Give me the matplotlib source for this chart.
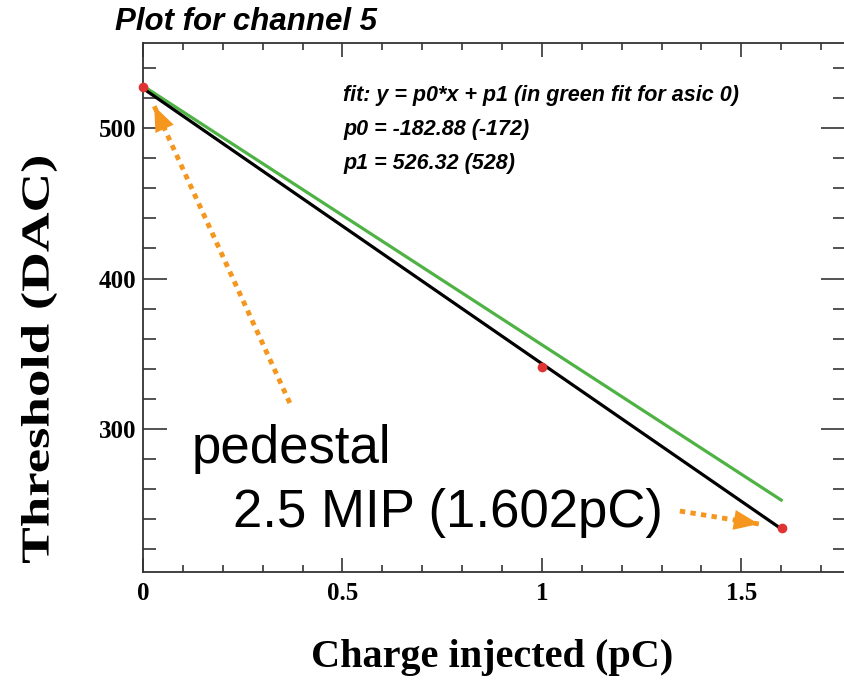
import matplotlib
matplotlib.use("Agg")
import matplotlib.pyplot as plt
from matplotlib.ticker import MultipleLocator
from matplotlib.textpath import TextPath
from matplotlib.patches import PathPatch
from matplotlib.font_manager import FontProperties
from matplotlib.transforms import Affine2D

# measured points: pedestal, 1 pC and 2.5 MIP injections
charge = [0.0, 1.0, 1.602]
threshold = [527.0, 341.5, 234.5]

# linear fit results (this channel / asic 0 reference)
p0, p1 = -182.88, 526.32
p0_ref, p1_ref = -172.0, 528.0
fit_x = [0.0, 1.602]
ref_x = [0.0, 1.6]

# annotation arrows (tail, tip) in data units
ped_arrow = [(0.368, 317.3), (0.028, 514.6)]
mip_arrow = [(1.346, 245.5), (1.544, 236.9)]

orange = '#f5961e'
serif = 'Liberation Serif'
sans = 'Liberation Sans'

fig = plt.figure(figsize=(8.44, 6.81), dpi=100)
W, H = 844, 681
ax = fig.add_axes([143 / W, 1 - 572 / H, (845 - 143) / W, (572 - 43) / H])
ax.set_xlim(0, 1.76)
ax.set_ylim(205, 556.5)

ax.plot(ref_x, [p0_ref * x + p1_ref for x in ref_x], color='#4fb244', lw=2.3, zorder=2)
ax.plot(fit_x, [p0 * x + p1 for x in fit_x], color='black', lw=2.3, zorder=3)
ax.plot(charge, threshold, 'o', color='#e03434', ms=7, mec='none', zorder=4, clip_on=False)

# ROOT-style frame: ticks on every side, pointing in
for sp in ax.spines.values():
    sp.set_linewidth(1.3)
    sp.set_color('#333333')
ax.xaxis.set_major_locator(MultipleLocator(0.5))
ax.xaxis.set_minor_locator(MultipleLocator(0.1))
ax.yaxis.set_major_locator(MultipleLocator(100))
ax.yaxis.set_minor_locator(MultipleLocator(20))
ax.tick_params(which='both', direction='in', top=True, right=True, color='#444444', width=1.3)
ax.tick_params(axis='x', which='major', length=10, pad=7)
ax.tick_params(axis='x', which='minor', length=5)
ax.tick_params(axis='y', which='major', length=17, pad=5)
ax.tick_params(axis='y', which='minor', length=9)
ax.set_xticks([0, 0.5, 1, 1.5])
ax.set_xticklabels(['0', '0.5', '1', '1.5'])
for lab in ax.get_xticklabels() + ax.get_yticklabels():
    lab.set_fontfamily(serif)
    lab.set_fontweight('bold')
    lab.set_fontsize(18)

fig.text(115 / W, 1 - 22 / H, 'Plot for channel 5', family=sans, weight='bold',
         style='italic', fontsize=22.5, va='center', ha='left')
fig.text(492 / W, 1 - 658 / H, 'Charge injected (pC)', family=serif, weight='bold',
         fontsize=29, ha='center', va='center')

# y title is drawn as a path so it can be stretched along its length
ytitle = TextPath((0, 0), 'Threshold (DAC)', size=40,
                  prop=FontProperties(family=serif, weight='bold'))
ext = ytitle.get_extents()
sx, sy = 406 / ext.width, 36 / ext.height
tr = (Affine2D().translate(-ext.x0 - ext.width / 2, -ext.y0 - ext.height / 2)
      .scale(sx, sy).rotate_deg(90).translate(39, H - 360))
fig.patches.append(PathPatch(ytitle, transform=tr, color='black', lw=0))

fit_lines = ['fit: y = p0*x + p1 (in green fit for asic 0)',
             f'p0 = {p0:.2f} ({p0_ref:.0f})',
             f'p1 = {p1:.2f} ({p1_ref:.0f})']
for i, line in enumerate(fit_lines):
    fig.text(343 / W, 1 - (95 + 34 * i) / H, line, family=sans, weight='bold',
             style='italic', fontsize=15.5, va='center', ha='left')

fig.text(192 / W, 1 - 463 / H, 'pedestal', family=sans, fontsize=38,
         ha='left', va='baseline')
fig.text(233 / W, 1 - 527 / H, '2.5 MIP (1.602pC)', family=sans, fontsize=38,
         ha='left', va='baseline')

# dotted shaft plus a filled head on top
for tail, tip in (ped_arrow, mip_arrow):
    ax.plot([tail[0], tip[0]], [tail[1], tip[1]], color=orange, lw=3.5,
            linestyle=(0, (1.1, 1.1)), dash_capstyle='butt', zorder=5)
    ax.annotate('', xy=tip, xytext=tail,
                arrowprops=dict(arrowstyle='-|>,head_length=1.8,head_width=0.72',
                                color=orange, lw=0, shrinkA=0, shrinkB=0),
                zorder=6)

fig.savefig('out.png', dpi=100)
